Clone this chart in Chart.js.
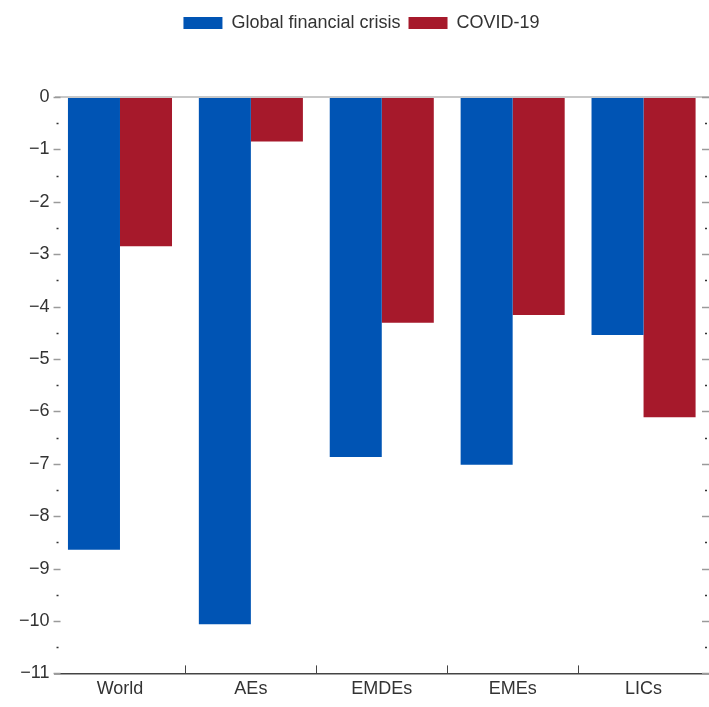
<!DOCTYPE html>
<html><head><meta charset="utf-8">
<script src="https://cdn.jsdelivr.net/npm/chart.js@4"></script>
<style>html,body{margin:0;padding:0;background:#fff}#wrap{width:709px;height:707px}</style>
</head><body><div id="wrap"><canvas id="c" width="709" height="707"></canvas></div>
<script>
const categories = ['World', 'AEs', 'EMDEs', 'EMEs', 'LICs'];
const gfcValues = [-8.64, -10.06, -6.87, -7.02, -4.54];
const covidValues = [-2.85, -0.85, -4.31, -4.16, -6.11];
const seriesNames = ['Global financial crisis', 'COVID-19'];
const yMin = -11, yMax = 0;

const FONT = "'Liberation Sans Narrow', 'Arial Narrow', 'Liberation Sans', sans-serif";
const fmt = v => (v < 0 ? '\u2212' + Math.abs(v) : String(v));

const legendGap = {
  id: 'legendGap',
  beforeInit(chart) {
    const orig = chart.legend.fit;
    chart.legend.fit = function () { orig.bind(chart.legend)(); this.height += 55; };
  }
};

const extras = {
  id: 'extras',
  afterDraw(chart) {
    const ctx = chart.ctx, y = chart.scales.y, x = chart.scales.x, area = chart.chartArea;
    ctx.save();
    for (let v = yMax; v >= yMin; v -= 0.5) {
      const py = Math.round(y.getPixelForValue(v)) + 0.5;
      const major = Math.abs(v - Math.round(v)) < 1e-9;
      if (major) {
        ctx.strokeStyle = '#9a9a9a'; ctx.lineWidth = 1.5;
        ctx.beginPath(); ctx.moveTo(area.left - 1, py); ctx.lineTo(area.left + 6, py); ctx.stroke();
        ctx.beginPath(); ctx.moveTo(area.right - 7, py); ctx.lineTo(area.right, py); ctx.stroke();
      } else {
        ctx.strokeStyle = '#333'; ctx.lineWidth = 1.5;
        ctx.beginPath(); ctx.moveTo(area.left + 2, py); ctx.lineTo(area.left + 4, py); ctx.stroke();
        ctx.beginPath(); ctx.moveTo(area.right - 4, py); ctx.lineTo(area.right - 2, py); ctx.stroke();
      }
    }
    // category separators pointing up from the bottom axis
    ctx.strokeStyle = '#444';
    ctx.lineWidth = 1;
    for (let i = 1; i < categories.length; i++) {
      const px = Math.round((x.getPixelForValue(i - 1) + x.getPixelForValue(i)) / 2) + 0.5;
      ctx.beginPath(); ctx.moveTo(px, area.bottom); ctx.lineTo(px, area.bottom - 8); ctx.stroke();
    }
    ctx.restore();
  }
};

new Chart(document.getElementById('c'), {
  type: 'bar',
  data: {
    labels: categories,
    datasets: [
      { label: seriesNames[0], data: gfcValues, backgroundColor: '#0054B4',
        categoryPercentage: 0.795, barPercentage: 1.0 },
      { label: seriesNames[1], data: covidValues, backgroundColor: '#A6192B',
        categoryPercentage: 0.795, barPercentage: 1.0 }
    ]
  },
  options: {
    responsive: false,
    animation: false,
    layout: { padding: { top: 6, left: 14, right: 0, bottom: 2 } },
    plugins: {
      legend: {
        position: 'top',
        labels: { boxWidth: 39, boxHeight: 12, padding: 8, color: '#333', font: { family: FONT, size: 18 } }
      },
      tooltip: { enabled: false }
    },
    scales: {
      x: {
        grid: { display: false, drawTicks: false },
        border: { display: true, color: '#444', width: 1.5 },
        ticks: { color: '#333', font: { family: FONT, size: 18 }, padding: 5 }
      },
      y: {
        position: 'left',
        min: yMin, max: yMax,
        ticks: { stepSize: 1, color: '#333', font: { family: FONT, size: 18 }, padding: 5, callback: v => fmt(v) },
        border: { display: false },
        grid: {
          drawOnChartArea: true, drawTicks: false,
          color: ctx => (ctx.tick && ctx.tick.value === 0 ? '#c8c8c8' : 'rgba(0,0,0,0)'),
          lineWidth: 2
        }
      }
    }
  },
  plugins: [legendGap, extras]
});
</script>
</body></html>
